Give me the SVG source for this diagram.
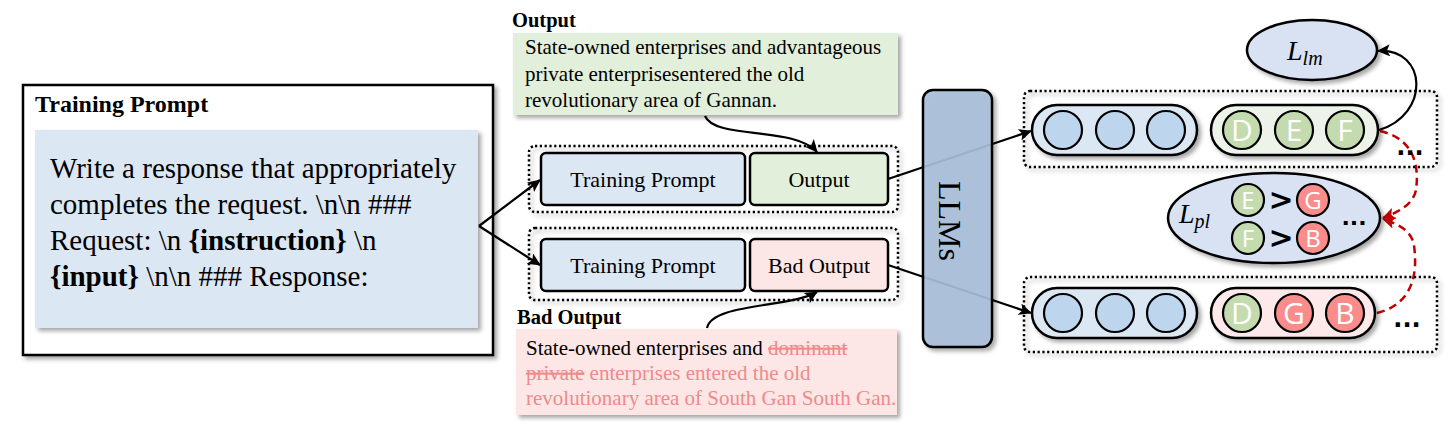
<svg xmlns="http://www.w3.org/2000/svg" width="1454" height="431" viewBox="0 0 1454 431">
<style>
.serif{font-family:"Liberation Serif","Times New Roman",serif;fill:#000}
.bold{font-weight:bold}
.tok{font-family:"Open Sans","Noto Sans",sans-serif;fill:#fff;text-anchor:middle;font-weight:500}
.dots{fill:none;stroke:#000;stroke-width:2.5;stroke-dasharray:2.2 2.6}
.box{stroke:#000;stroke-width:2.5}
.blue{fill:#dce7f4}
.green{fill:#e2efda}
.pink{fill:#fde6e6}
.cb{fill:#bdd6ee;stroke:#000;stroke-width:2.2}
.cg{fill:#c3dbae;stroke:#000;stroke-width:2.2}
.cr{fill:#fb8c8c;stroke:#000;stroke-width:2.2}
.conn{fill:none;stroke:#000;stroke-width:2.2}
.red{fill:none;stroke:#c00000;stroke-width:2.5;stroke-dasharray:8 5}
.strike{fill:#f08a8a;text-decoration:line-through}
.rt{fill:#f08a8a}
.math{font-family:"Liberation Serif","DejaVu Serif",serif;font-style:italic;fill:#000}
</style>
<defs>
<filter id="sh" x="-10%" y="-10%" width="130%" height="140%">
<feDropShadow dx="3" dy="3" stdDeviation="2" flood-color="#000" flood-opacity="0.35"/>
</filter>
<marker id="ah" markerUnits="userSpaceOnUse" markerWidth="14" markerHeight="12" refX="12" refY="6" orient="auto">
<path d="M0,0 L13,6 L0,12 L3,6 Z" fill="#000"/>
</marker>
<marker id="ahr" markerUnits="userSpaceOnUse" markerWidth="14" markerHeight="12" refX="12" refY="6" orient="auto">
<path d="M0,0 L13,6 L0,12 L3,6 Z" fill="#c00000"/>
</marker>
</defs>

<g id="training-prompt">
<rect x="23" y="85" width="470" height="270" fill="#fff" class="box" filter="url(#sh)"/>
<text x="35" y="112" class="serif bold" font-size="24">Training Prompt</text>
<rect x="35" y="130" width="443" height="198" class="blue" filter="url(#sh)"/>
<text class="serif" font-size="29">
<tspan x="50" y="178">Write a response that appropriately</tspan>
<tspan x="50" y="214">completes the request. \n\n ###</tspan>
<tspan x="50" y="250">Request: \n <tspan class="bold">{instruction}</tspan> \n</tspan>
<tspan x="50" y="286"><tspan class="bold">{input}</tspan> \n\n ### Response:</tspan>
</text>
</g>

<g id="output-text">
<text x="512" y="27" class="serif bold" font-size="20.5">Output</text>
<rect x="513" y="33" width="385" height="82" class="green" filter="url(#sh)"/>
<text class="serif" font-size="21">
<tspan x="525" y="54">State-owned enterprises and advantageous</tspan>
<tspan x="525" y="81">private enterprisesentered the old</tspan>
<tspan x="525" y="107">revolutionary area of Gannan.</tspan>
</text>
</g>

<g id="bad-output-text">
<text x="517" y="324" class="serif bold" font-size="20.5">Bad Output</text>
<rect x="516" y="329" width="381" height="86" class="pink" filter="url(#sh)"/>
<text class="serif" font-size="21">
<tspan x="526" y="355">State-owned enterprises and <tspan class="strike">dominant</tspan></tspan>
<tspan x="526" y="380"><tspan class="strike">private</tspan><tspan class="rt"> enterprises entered the old</tspan></tspan>
<tspan x="526" y="405" class="rt">revolutionary area of South Gan South Gan.</tspan>
</text>
</g>

<g id="pair-good">
<rect x="529" y="146" width="369" height="66" rx="6" class="dots" filter="url(#sh)"/>
<rect x="541" y="153" width="204" height="52" rx="5" class="box blue"/>
<text x="643" y="187" class="serif" font-size="22" text-anchor="middle">Training Prompt</text>
<rect x="750" y="153" width="138" height="52" rx="5" class="box green"/>
<text x="819" y="187" class="serif" font-size="22" text-anchor="middle">Output</text>
</g>

<g id="pair-bad">
<rect x="529" y="228" width="369" height="72" rx="6" class="dots" filter="url(#sh)"/>
<rect x="541" y="239" width="204" height="52" rx="5" class="box blue"/>
<text x="643" y="273" class="serif" font-size="22" text-anchor="middle">Training Prompt</text>
<rect x="750" y="239" width="138" height="52" rx="5" class="box pink"/>
<text x="819" y="273" class="serif" font-size="22" text-anchor="middle">Bad Output</text>
</g>

<g id="connectors">
<path d="M479,226 L540,180" class="conn" marker-end="url(#ah)"/>
<path d="M479,226 L540,265" class="conn" marker-end="url(#ah)"/>
<path d="M705,116 C715,140 795,126 817,152" class="conn" marker-end="url(#ah)"/>
<path d="M707,328 C712,303 790,308 817,292" class="conn" marker-end="url(#ah)"/>
<path d="M888,179 L1031,131" class="conn" marker-end="url(#ah)"/>
<path d="M888,265 L1031,313" class="conn" marker-end="url(#ah)"/>
<path d="M1379,130 C1430,115 1428,48 1378,51" class="conn" marker-end="url(#ah)"/>
<path d="M1380,131 C1420,140 1418,175 1416,190 C1413,205 1398,212 1383,218" class="red" marker-end="url(#ahr)"/>
<path d="M1377,313 C1420,302 1416,262 1414,245 C1411,230 1398,224 1383,219" class="red" marker-end="url(#ahr)"/>
</g>

<g id="llms">
<rect x="923" y="90" width="69" height="257" rx="10" fill="#a9c0d9" fill-opacity="0.9" class="box" filter="url(#sh)"/>
<text transform="translate(950,221) rotate(90)" y="11" class="serif" font-size="32" text-anchor="middle">LLMs</text>
</g>

<g id="tokens-good">
<rect x="1024" y="91" width="413" height="76" rx="6" class="dots" filter="url(#sh)"/>
<rect x="1032" y="105" width="165" height="50" rx="25" class="box blue" filter="url(#sh)"/>
<circle cx="1063" cy="130" r="19" class="cb"/>
<circle cx="1115" cy="130" r="19" class="cb"/>
<circle cx="1166" cy="130" r="19" class="cb"/>
<rect x="1211" y="105" width="167" height="50" rx="25" class="box" fill="#edf3e8" filter="url(#sh)"/>
<circle cx="1242" cy="130" r="19" class="cg"/>
<circle cx="1294" cy="130" r="19" class="cg"/>
<circle cx="1345" cy="130" r="19" class="cg"/>
<text x="1242" y="141" class="tok" font-size="30">D</text>
<text x="1294" y="141" class="tok" font-size="30">E</text>
<text x="1345" y="141" class="tok" font-size="30">F</text>
<text x="1410" y="155" font-family="DejaVu Sans,sans-serif" font-weight="bold" font-size="24" text-anchor="middle">...</text>
</g>

<g id="tokens-bad">
<rect x="1024" y="277" width="413" height="75" rx="6" class="dots" filter="url(#sh)"/>
<rect x="1032" y="288" width="165" height="50" rx="25" class="box blue" filter="url(#sh)"/>
<circle cx="1063" cy="313" r="19" class="cb"/>
<circle cx="1115" cy="313" r="19" class="cb"/>
<circle cx="1166" cy="313" r="19" class="cb"/>
<rect x="1211" y="288" width="164" height="50" rx="25" class="box" fill="#fde9e9" filter="url(#sh)"/>
<circle cx="1242" cy="313" r="19" class="cg"/>
<circle cx="1294" cy="313" r="19" class="cr"/>
<circle cx="1345" cy="313" r="19" class="cr"/>
<text x="1242" y="324" class="tok" font-size="30">D</text>
<text x="1294" y="324" class="tok" font-size="30">G</text>
<text x="1345" y="324" class="tok" font-size="30">B</text>
<text x="1407" y="327" font-family="DejaVu Sans,sans-serif" font-weight="bold" font-size="24" text-anchor="middle">...</text>
</g>

<g id="loss-lm">
<ellipse cx="1312" cy="50" rx="65" ry="30" fill="#d9e2f3" class="box" filter="url(#sh)"/>
<text x="1287" y="60" class="math" font-size="28">L<tspan font-size="20" dy="5">lm</tspan></text>
</g>

<g id="loss-pl">
<ellipse cx="1274" cy="218" rx="106" ry="45" fill="#d9e2f3" class="box" filter="url(#sh)"/>
<text x="1179" y="223" class="math" font-size="28">L<tspan font-size="20" dy="5">pl</tspan></text>
<circle cx="1248" cy="200" r="16" class="cg"/>
<circle cx="1313" cy="200" r="16" class="cr"/>
<circle cx="1248" cy="238" r="16" class="cg"/>
<circle cx="1313" cy="238" r="16" class="cr"/>
<text x="1248" y="209" class="tok" font-size="24">E</text>
<text x="1313" y="209" class="tok" font-size="24">G</text>
<text x="1248" y="247" class="tok" font-size="24">F</text>
<text x="1313" y="247" class="tok" font-size="24">B</text>
<text x="1281" y="210" font-family="DejaVu Sans,sans-serif" font-weight="bold" font-size="30" text-anchor="middle">&gt;</text>
<text x="1281" y="248" font-family="DejaVu Sans,sans-serif" font-weight="bold" font-size="30" text-anchor="middle">&gt;</text>
<text x="1354" y="225" font-family="DejaVu Sans,sans-serif" font-weight="bold" font-size="22" text-anchor="middle">...</text>
</g>
</svg>
